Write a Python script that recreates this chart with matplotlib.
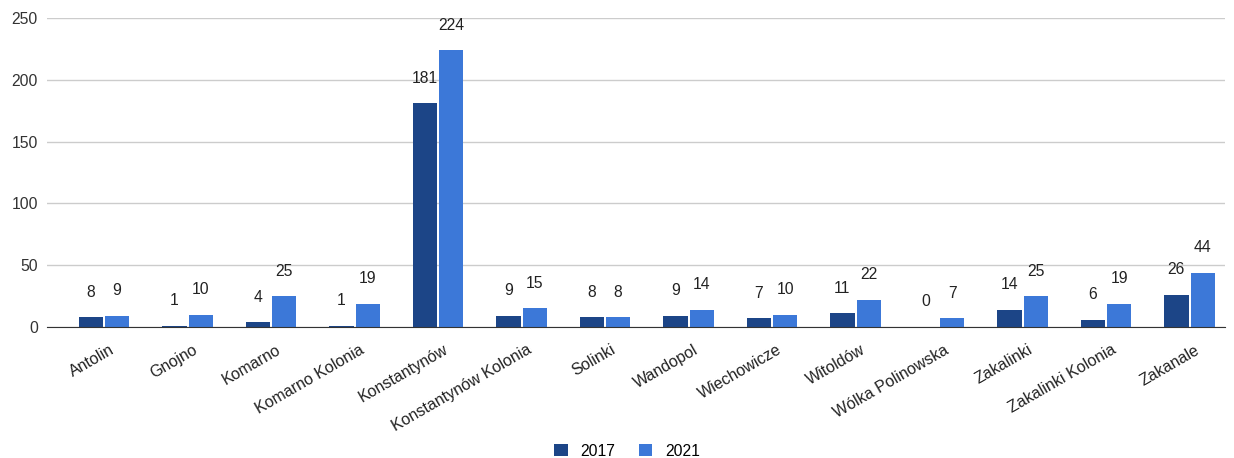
import numpy as np
import matplotlib.pyplot as plt

# dane
miejscowosci = ['Antolin', 'Gnojno', 'Komarno', 'Komarno Kolonia', 'Konstantynów',
                'Konstantynów Kolonia', 'Solinki', 'Wandopol', 'Wiechowicze', 'Witoldów',
                'Wólka Polinowska', 'Zakalinki', 'Zakalinki Kolonia', 'Zakanale']
v2017 = [8, 1, 4, 1, 181, 9, 8, 9, 7, 11, 0, 14, 6, 26]
v2021 = [9, 10, 25, 19, 224, 15, 8, 14, 10, 22, 7, 25, 19, 44]
lata = ['2017', '2021']
yticks = [0, 50, 100, 150, 200, 250]

plt.rcParams['font.family'] = ['Liberation Sans', 'DejaVu Sans']

fig = plt.figure(figsize=(12.34, 4.58), dpi=100)
ax = fig.add_axes([47/1234, 1 - 327/458, (1225-47)/1234, (327-18)/458])

x = np.arange(len(miejscowosci))
w = 0.29
b1 = ax.bar(x - w/2 - 0.012, v2017, w, color='#1c4587', label=lata[0], zorder=3)
b2 = ax.bar(x + w/2 + 0.012, v2021, w, color='#3c78d8', label=lata[1], zorder=3)

for bars in (b1, b2):
    for r in bars:
        h = r.get_height()
        ax.annotate(str(int(h)), (r.get_x() + r.get_width()/2, h),
                    xytext=(0, 18), textcoords='offset points',
                    ha='center', va='center', fontsize=11.3, color='#222222')

ax.set_xlim(-0.683, 13.425)
ax.set_ylim(0, 250)
ax.set_yticks(yticks)
# etykiety lekko w prawo od srodka grupy
ax.set_xticks(x + 0.06)
ax.set_xticklabels(miejscowosci, rotation=30, ha='right', rotation_mode='anchor',
                   fontsize=11.5, color='#222222')
ax.tick_params(axis='y', length=0, labelsize=11.3, labelcolor='#333333', pad=6.5)
ax.tick_params(axis='x', length=0, pad=11)
ax.grid(axis='y', color='#cccccc', linewidth=1, zorder=0)
for s in ['top', 'right', 'left']:
    ax.spines[s].set_visible(False)
ax.spines['bottom'].set_color('#333333')
ax.spines['bottom'].set_zorder(4)

fig.legend(handles=[b1, b2], labels=lata, loc='center', bbox_to_anchor=(627/1234, 1 - 451/458),
           ncol=2, frameon=False, fontsize=11.3, handlelength=0.88, handleheight=0.88,
           columnspacing=1.47, handletextpad=0.83, borderpad=0)

fig.savefig('out.png', dpi=100)
